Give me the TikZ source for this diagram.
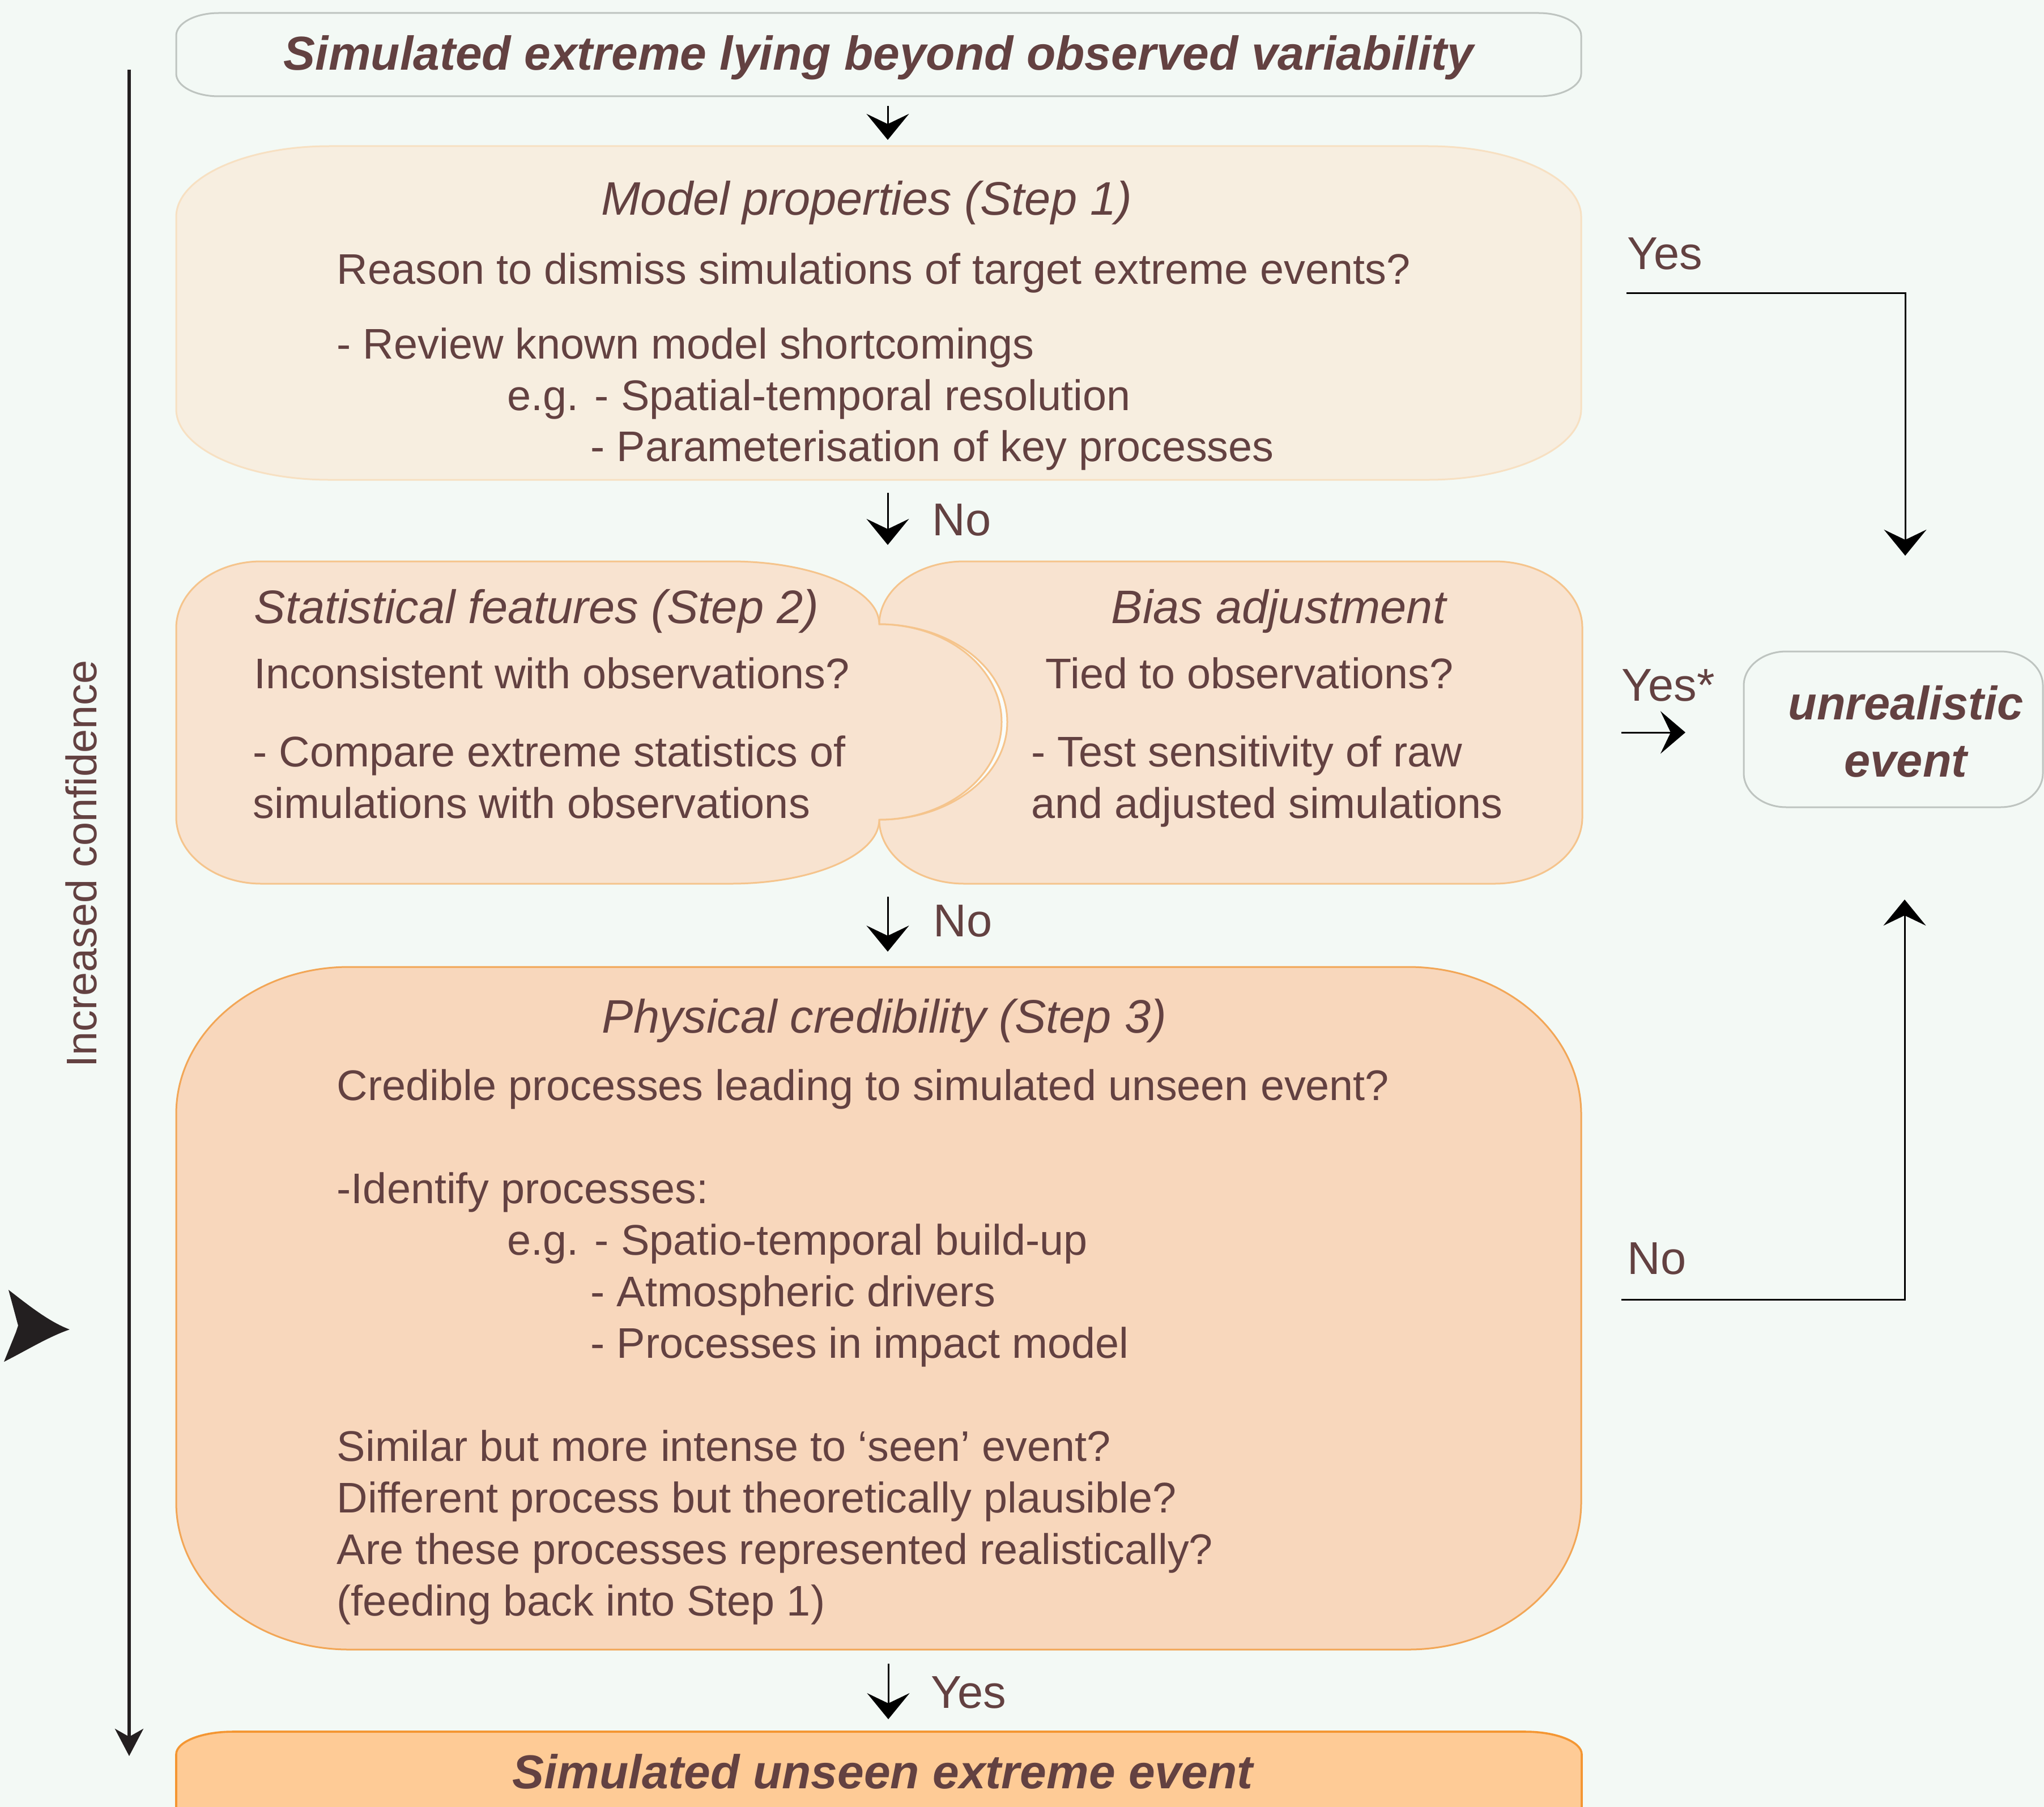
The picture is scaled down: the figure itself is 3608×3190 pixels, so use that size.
\documentclass[tikz,border=0pt]{standalone}
\usepackage{fontspec}
\setmainfont{Liberation Sans}
\usetikzlibrary{arrows.meta}
\definecolor{bg}{RGB}{243,249,245}
\definecolor{tc}{RGB}{99,65,65}
\definecolor{grayb}{RGB}{190,196,192}
\definecolor{fA}{RGB}{247,238,224}
\definecolor{bA}{RGB}{247,224,194}
\definecolor{fB}{RGB}{248,227,208}
\definecolor{bB}{RGB}{245,196,140}
\definecolor{fC}{RGB}{248,215,188}
\definecolor{bC}{RGB}{242,166,86}
\definecolor{fD}{RGB}{254,203,150}
\definecolor{bD}{RGB}{244,150,50}
\definecolor{ink}{RGB}{35,31,32}
\newcommand\ebox[7]{%
  \path[#7] ({#1+#5},#2) -- ({#3-#5},#2)
    .. controls ({#3-#5+0.5523*#5},#2) and (#3,{#2+#6-0.5523*#6}) .. (#3,{#2+#6})
    -- (#3,{#4-#6})
    .. controls (#3,{#4-#6+0.5523*#6}) and ({#3-#5+0.5523*#5},#4) .. ({#3-#5},#4)
    -- ({#1+#5},#4)
    .. controls ({#1+#5-0.5523*#5},#4) and (#1,{#4-#6+0.5523*#6}) .. (#1,{#4-#6})
    -- (#1,{#2+#6})
    .. controls (#1,{#2+#6-0.5523*#6}) and ({#1+#5-0.5523*#5},#2) .. ({#1+#5},#2) -- cycle;}
\newcommand\fbody{\fontsize{18.9}{22}\selectfont}
\newcommand\fhead{\fontsize{20.75}{24}\selectfont\itshape}
\newcommand\flab{\fontsize{20.3}{24}\selectfont}
\newcommand\fbold{\fontsize{21}{25}\selectfont\bfseries\itshape}
\tikzset{
  txt/.style={inner sep=0pt, text=tc, font=\fbody, anchor=base west},
  head/.style={inner sep=0pt, text=tc, font=\fhead, anchor=base},
  lab/.style={inner sep=0pt, text=tc, font=\flab, anchor=base west},
  boldtxt/.style={inner sep=0pt, text=tc, font=\fbold, anchor=base},
  arr/.style={line width=0.75pt, black, -{Stealth[length=11.5pt,width=18.75pt,inset=4.5pt]}},
  bigarr/.style={line width=1.5pt, ink, -{Stealth[length=12pt,width=12.5pt,inset=3.5pt]}}
}
\begin{document}
\begin{tikzpicture}[x=0.25pt,y=-0.25pt]
\useasboundingbox (0,0) rectangle (3608,3190);
\fill[bg] (0,0) rectangle (3608,3190);
\begin{scope}
\clip (0,0) rectangle (3608,3190);
% top box
\ebox{311}{23}{2791}{170}{75}{40}{draw=grayb, line width=0.75pt, fill=bg}
% step 1
\ebox{311}{258}{2791}{847}{270}{125}{draw=bA, line width=0.75pt, fill=fA}
% step 2 right lobe
\path[draw=bB, line width=0.75pt, fill=fB]
  (1702,991) -- (2638,991) .. controls (2723.6,991) and (2793,1043.4) .. (2793,1108)
  -- (2793,1443) .. controls (2793,1507.6) and (2723.6,1560) .. (2638,1560)
  -- (1702,1560) .. controls (1619.2,1560) and (1552,1509.4) .. (1552,1447)
  -- (1552,1102) .. controls (1552,1040.7) and (1619.2,991) .. (1702,991) -- cycle;
% crescent gap
\fill[white!60!bg] (1500,1102) -- (1552,1102) .. controls (1676.8,1102) and (1778,1179.2) .. (1778,1274.5)
  .. controls (1778,1369.8) and (1676.8,1447) .. (1552,1447) -- (1500,1447) -- cycle;
\draw[bB, line width=0.75pt] (1552,1102) .. controls (1676.8,1102) and (1778,1179.2) .. (1778,1274.5)
  .. controls (1778,1369.8) and (1676.8,1447) .. (1552,1447);
% step 2 left lobe
\path[draw=bB, line width=0.75pt, fill=fB]
  (461,991) -- (1290,991) .. controls (1434.7,991) and (1552,1040.7) .. (1552,1102)
  .. controls (1671.3,1102) and (1768,1179.2) .. (1768,1274.5)
  .. controls (1768,1369.8) and (1671.3,1447) .. (1552,1447)
  .. controls (1552,1509.4) and (1434.7,1560) .. (1290,1560)
  -- (461,1560) .. controls (378.2,1560) and (311,1507.2) .. (311,1442)
  -- (311,1109) .. controls (311,1043.8) and (378.2,991) .. (461,991) -- cycle;
% step 3
\ebox{311}{1707}{2791}{2912}{305}{260}{draw=bC, line width=0.75pt, fill=fC}
% final box
\ebox{311}{3057}{2792}{3320}{100}{40}{draw=bD, line width=0.9pt, fill=fD}
% unrealistic event box
\ebox{3078}{1150}{3606}{1425}{75}{60}{draw=grayb, line width=0.75pt, fill=bg}
\end{scope}

% texts
\node[boldtxt] (title) at (1551,124) {Simulated extreme lying beyond observed variability};

\node[head] (h1) at (1530,380) {Model properties (Step 1)};
\node[txt] (q1) at (594,501) {Reason to dismiss simulations of target extreme events?};
\node[txt] (r1) at (594,633) {- Review known model shortcomings};
\node[txt] (r2) at (895,724) {e.g. - Spatial-temporal resolution};
\node[txt] (r3) at (1042,814) {- Parameterisation of key processes};

\node[head, anchor=base west] (h2) at (448,1100) {Statistical features (Step 2)};
\node[txt] (q2) at (448,1215) {Inconsistent with observations?};
\node[txt] (s1) at (446,1353) {- Compare extreme statistics of};
\node[txt] (s2) at (446,1444) {simulations with observations};

\node[head] (hb) at (2257,1100) {Bias adjustment};
\node[txt] (qb) at (1845,1215) {Tied to observations?};
\node[txt] (b1) at (1820,1353) {- Test sensitivity of raw};
\node[txt] (b2) at (1820,1444) {and adjusted simulations};

\node[head] (h3) at (1561,1823) {Physical credibility (Step 3)};
\node[txt] (q3) at (594,1942) {Credible processes leading to simulated unseen event?};
\node[txt] (p0) at (594,2124) {-Identify processes:};
\node[txt] (p1) at (895,2215) {e.g. - Spatio-temporal build-up};
\node[txt] (p2) at (1042,2306) {- Atmospheric drivers};
\node[txt] (p3) at (1042,2397) {- Processes in impact model};
\node[txt] (c1) at (594,2579) {Similar but more intense to ‘seen’ event?};
\node[txt] (c2) at (594,2670) {Different process but theoretically plausible?};
\node[txt] (c3) at (594,2761) {Are these processes represented realistically?};
\node[txt] (c4) at (594,2852) {(feeding back into Step 1)};

\node[boldtxt] (final) at (1558,3157) {Simulated unseen extreme event};

\node[boldtxt, font=\fontsize{20.75}{24}\selectfont\bfseries\itshape] (un1) at (3364,1270) {unrealistic};
\node[boldtxt, font=\fontsize{20.75}{24}\selectfont\bfseries\itshape] (un2) at (3364,1371) {event};

\node[inner sep=0pt, text=tc, font=\fbody, rotate=90] (conf) at (143,1525) {Increased confidence};

% labels
\node[lab] (lyes1) at (2872,475) {Yes};
\node[lab] (lyes2) at (2862,1237) {Yes*};
\node[lab] (lno3) at (2872,2249) {No};
\node[lab] (lno1) at (1645,945) {No};
\node[lab] (lno2) at (1647,1653) {No};
\node[lab] (lyes3) at (1643,3015) {Yes};

% connector end points
\coordinate (a1s) at (1567,187);  \coordinate (a1e) at (1567,247);
\coordinate (a2s) at (1567,870);  \coordinate (a2e) at (1567,962);
\coordinate (a3s) at (1567,1583); \coordinate (a3e) at (1567,1680);
\coordinate (a4s) at (1568,2937); \coordinate (a4e) at (1568,3035);
\coordinate (ys) at (2871,517);   \coordinate (ye) at (3363,981);
\coordinate (y2s) at (2862,1293); \coordinate (y2e) at (2975,1293);
\coordinate (ns) at (2862,2294);  \coordinate (ne) at (3362,1588);
\coordinate (cs) at (228,123);    \coordinate (ce) at (228,3100);

\draw[arr] (a1s) -- (a1e);
\draw[arr] (a2s) -- (a2e);
\draw[arr] (a3s) -- (a3e);
\draw[arr] (a4s) -- (a4e);
\draw[arr] (ys) -| (ye);
\draw[arr, -{Stealth[length=11pt,width=18.75pt,inset=4.5pt]}] (y2s) -- (y2e);
\draw[arr] (ns) -| (ne);
\draw[bigarr] (cs) -- (ce);

% stray large arrowhead at left
\fill[ink] (123,2347) .. controls (85,2333) and (45,2300) .. (15,2277) -- (32,2340) -- (28,2352)
  -- (7,2404) .. controls (45,2385) and (85,2360) .. (123,2347) -- cycle;
\end{tikzpicture}
\end{document}
